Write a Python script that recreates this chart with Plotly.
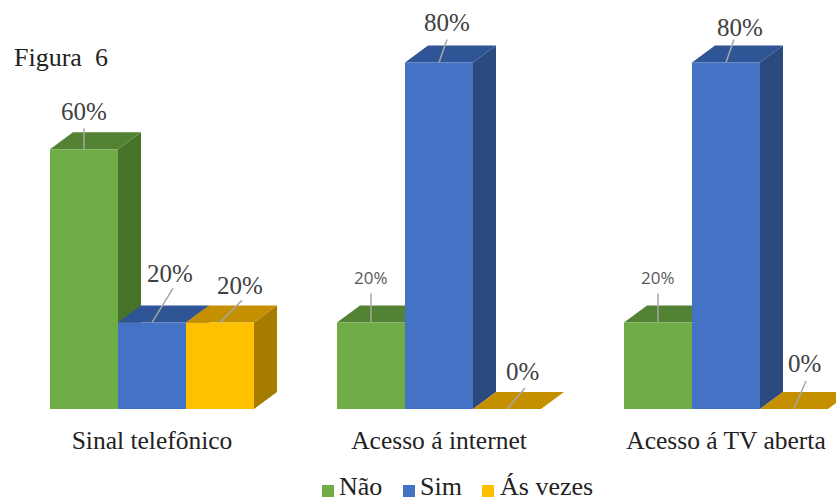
import plotly.graph_objects as go

categories = ["Sinal telefônico", "Acesso á internet", "Acesso á TV aberta"]
nao = [60, 20, 20]
sim = [20, 80, 80]
as_vezes = [20, 0, 0]
series_names = ["Não", "Sim", "Ás vezes"]
front_colors = ["#70AD47", "#4472C4", "#FFC000"]
top_colors = ["#548235", "#2F5597", "#C49000"]
side_colors = ["#47732A", "#2A4A80", "#A67C00"]

# label offsets from the centre of each bar's front top edge, in px (series, then category)
label_dx = [[0, 0, 0], [18, 8, 14], [20, 15, 10]]
label_dy = [[-38, -45, -45], [-49, -40, -35], [-37, -38, -46]]
lead_dx = [[0, 0, 0], [21, 8, 8], [22, 18, 12]]
lead_dy = [[-21, -29, -29], [-34, -23, -23], [-22, -21, -28]]

# hand-placed legend, in px from the page's top left
legend_swatch_px = [322, 403, 482]
legend_text_px = [339, 420, 500]
LEGEND_SWATCH_Y_PX = 491
LEGEND_TEXT_Y_PX = 487

W, H = 836, 502
BASE_PX = 409
PX_PER_UNIT_Y = 4.33
PITCH = 287
BAR_PX = 68
FIRST_CENTER_PX = 152
DEPTH_X, DEPTH_Y = 23, 17

ux = 1 / PITCH
uy = 1 / PX_PER_UNIT_Y
bw = BAR_PX * ux
dx = DEPTH_X * ux
dy = DEPTH_Y * uy
x_idx = list(range(len(categories)))
all_series = [nao, sim, as_vezes]

fig = go.Figure()
for name, vals, col in zip(series_names, all_series, front_colors):
    fig.add_trace(go.Bar(name=name, x=x_idx, y=vals, showlegend=False,
                         marker=dict(color=col, line=dict(width=0))))


def poly(pts):
    return "M" + "L".join(f"{x:.5f},{y:.3f}" for x, y in pts) + "Z"


def py(px):
    return (BASE_PX - px) / BASE_PX


shapes = []
for i in x_idx:
    for j, vals in enumerate(all_series):
        v = vals[i]
        x0 = i + (j - 1.5) * bw
        x1 = x0 + bw
        shapes.append(dict(type="path", layer="below", xref="x", yref="y", line=dict(width=0),
                           fillcolor=side_colors[j],
                           path=poly([(x1, 0), (x1 + dx, dy), (x1 + dx, v + dy), (x1, v)])))
        shapes.append(dict(type="path", layer="below", xref="x", yref="y", line=dict(width=0),
                           fillcolor=top_colors[j],
                           path=poly([(x0, v), (x0 + dx, v + dy), (x1 + dx, v + dy), (x1, v)])))

annotations = []
for i in x_idx:
    for j, vals in enumerate(all_series):
        v = vals[i]
        xc = i + (j - 1) * bw
        fig.add_trace(go.Scatter(x=[xc, xc + lead_dx[j][i] * ux], y=[v, v - lead_dy[j][i] * uy],
                                 mode="lines", line=dict(color="#A6A6A6", width=1.5),
                                 showlegend=False, hoverinfo="skip"))
        small = j == 0 and i > 0
        annotations.append(dict(
            x=xc, y=v, xref="x", yref="y", text=f"{v}%", showarrow=False,
            xshift=label_dx[j][i], yshift=-label_dy[j][i],
            font=dict(family="Open Sans" if small else "Liberation Serif",
                      size=17 if small else 25, color="#595959" if small else "#404040")))

annotations.append(dict(xref="paper", yref="paper", x=12 / W, y=py(58),
                        xanchor="left", yanchor="middle", text="Figura  6", showarrow=False,
                        font=dict(family="Liberation Serif", size=26, color="#222222")))

for name, col, sx, tx in zip(series_names, front_colors, legend_swatch_px, legend_text_px):
    shapes.append(dict(type="rect", xref="paper", yref="paper", line=dict(width=0), fillcolor=col,
                       x0=sx / W, x1=(sx + 12) / W,
                       y0=py(LEGEND_SWATCH_Y_PX + 6), y1=py(LEGEND_SWATCH_Y_PX - 6)))
    annotations.append(dict(xref="paper", yref="paper", x=tx / W, y=py(LEGEND_TEXT_Y_PX),
                            xanchor="left", yanchor="middle", text=name, showarrow=False, xshift=-2,
                            font=dict(family="Liberation Serif", size=26, color="#222222")))

fig.update_layout(
    width=W, height=H, autosize=False, barmode="group", bargap=1 - 3 * BAR_PX / PITCH, bargroupgap=0,
    margin=dict(l=0, r=0, t=0, b=H - BASE_PX, pad=0),
    paper_bgcolor="white", plot_bgcolor="white", showlegend=False,
    xaxis=dict(range=[-FIRST_CENTER_PX * ux, (W - FIRST_CENTER_PX) * ux], tickmode="array",
               tickvals=x_idx, ticktext=categories, showgrid=False, zeroline=False, showline=False,
               ticks="outside", ticklen=8, tickcolor="rgba(0,0,0,0)",
               tickfont=dict(family="Liberation Serif", size=25.5, color="#222222")),
    yaxis=dict(range=[0, BASE_PX * uy], visible=False),
    shapes=shapes, annotations=annotations,
)
fig.write_html("out.html", config={"displayModeBar": False},
               post_script="document.body.style.margin='0';")
